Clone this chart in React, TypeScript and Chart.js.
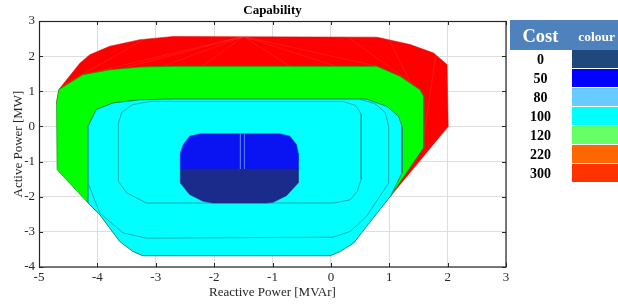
import { useEffect, useRef } from "react";
import { Chart, registerables } from "chart.js";

Chart.register(...registerables);

type P = [number, number];

const xRange: P = [-5, 3];
const yRange: P = [-4, 3];

// Cost 300 region (outer boundary, top part)
const redRegion: P[] = [
  [-4.70, 0.67], [-4.66, 1.05], [-4.30, 1.80], [-4.13, 2.04], [-3.79, 2.28],
  [-3.27, 2.47], [-2.70, 2.56], [0.79, 2.54], [1.36, 2.33], [1.76, 2.09],
  [1.99, 1.76], [2.01, 0.0], [1.02, -1.99], [0.0, -1.0], [-4.4, 0.4],
];

// Cost 120 region
const greenRegion: P[] = [
  [-4.70, 0.67], [-4.66, 1.05], [-4.25, 1.47], [-3.79, 1.61], [-3.27, 1.69],
  [-2.70, 1.71], [0.79, 1.71], [1.19, 1.42], [1.53, 1.04], [1.59, 0.85],
  [1.59, -0.60], [1.02, -1.99], [0.0, -2.0], [-4.16, -2.18], [-4.69, -1.23],
];

// Cost 100 region
const cyanRegion: P[] = [
  [-4.16, 0.0], [-4.02, 0.48], [-3.73, 0.67], [-3.27, 0.76], [-2.70, 0.78],
  [0.61, 0.78], [0.96, 0.57], [1.16, 0.29], [1.22, 0.0], [1.22, -1.32],
  [1.02, -1.99], [0.61, -2.85], [0.39, -3.32], [0.16, -3.56], [-0.01, -3.68],
  [-3.22, -3.68], [-3.39, -3.56], [-3.62, -3.27], [-3.96, -2.51], [-4.16, -2.18],
];

// Cost 50 region
const blueRegion: P[] = [
  [-2.58, -1.21], [-2.58, -0.76], [-2.53, -0.52], [-2.42, -0.28], [-2.24, -0.21],
  [-0.87, -0.21], [-0.70, -0.28], [-0.59, -0.52], [-0.56, -0.76], [-0.56, -1.21],
];

// Cost 0 region
const darkBlueRegion: P[] = [
  [-2.58, -1.21], [-0.56, -1.21], [-0.56, -1.61], [-0.76, -1.97], [-0.99, -2.16],
  [-1.10, -2.18], [-2.02, -2.18], [-2.19, -2.13], [-2.42, -1.94], [-2.58, -1.61],
];

// contour lines inside the cost 100 region
const innerContour: P[] = [
  [-3.64, -1.56], [-3.64, 0.10], [-3.58, 0.40], [-3.40, 0.62], [-3.10, 0.71],
  [0.21, 0.71], [0.42, 0.60], [0.52, 0.35], [0.52, -1.50], [0.45, -1.85],
  [0.33, -2.09], [0.04, -2.18], [-3.16, -2.18], [-3.50, -1.89], [-3.64, -1.56],
];
const outerContour: P[] = [
  [-4.16, -1.61], [-3.96, -2.46], [-3.56, -3.03], [-3.16, -3.18], [0.04, -3.15],
  [0.33, -2.99], [0.61, -2.56], [0.99, -1.61], [0.99, 0.0], [0.93, 0.40],
  [0.75, 0.65], [0.50, 0.77],
];

// faint facet lines
const redFacets: P[][] = [
  [[-1.5, 2.56], [-4.25, 1.47]],
  [[-1.5, 2.56], [-3.6, 1.64]],
  [[-1.5, 2.56], [-2.9, 1.70]],
  [[-1.5, 2.56], [-2.2, 1.71]],
  [[-1.5, 2.56], [-0.7, 1.71]],
  [[-1.5, 2.56], [0.1, 1.71]],
  [[-1.5, 2.56], [0.8, 1.71]],
  [[0.3, 2.54], [1.5, 1.08]],
  [[1.0, 2.45], [1.59, 0.5]],
  [[1.8, 2.05], [1.59, -0.3]],
  [[-3.2, 2.48], [-4.6, 1.15]],
];
const blueFacets: P[][] = [
  [[-1.55, -0.21], [-1.55, -1.21]],
  [[-1.48, -0.21], [-1.48, -1.21]],
];

const costLabels = ["0", "50", "80", "100", "120", "220", "300"];
const costColours = ["#1F497D", "#0000FF", "#66CCFF", "#00FFFF", "#66FF66", "#FF6600", "#FF3300"];

const SERIF = '"Liberation Serif", "Times New Roman", serif';

const pts = (a: P[], close = false) => {
  const d = a.map(([x, y]) => ({ x, y }));
  if (close) d.push({ x: a[0][0], y: a[0][1] });
  return d;
};

const poly = (a: P[], fillColor: string, border: string, bw: number) => ({
  data: pts(a, true),
  showLine: true,
  fill: "shape",
  backgroundColor: fillColor,
  borderColor: border,
  borderWidth: bw,
  pointRadius: 0,
  tension: 0,
});

const line = (a: P[], color: string, w: number) => ({
  data: pts(a),
  showLine: true,
  fill: false,
  borderColor: color,
  borderWidth: w,
  pointRadius: 0,
  tension: 0,
});

const framePlugin = {
  id: "frame",
  afterDatasetsDraw(chart: any) {
    const { ctx, chartArea: a, scales } = chart;
    const xs = scales.x;
    const ys = scales.y;
    ctx.save();
    ctx.strokeStyle = "#262626";
    ctx.lineWidth = 1;
    ctx.beginPath();
    xs.ticks.forEach((t: any) => {
      const px = Math.round(xs.getPixelForValue(t.value)) + 0.5;
      ctx.moveTo(px, a.bottom);
      ctx.lineTo(px, a.bottom - 4);
      ctx.moveTo(px, a.top);
      ctx.lineTo(px, a.top + 4);
    });
    ys.ticks.forEach((t: any) => {
      const py = Math.round(ys.getPixelForValue(t.value)) + 0.5;
      ctx.moveTo(a.left, py);
      ctx.lineTo(a.left + 4, py);
      ctx.moveTo(a.right, py);
      ctx.lineTo(a.right - 4, py);
    });
    ctx.stroke();
    ctx.lineWidth = 1.2;
    ctx.strokeRect(a.left + 0.5, a.top + 0.5, a.right - a.left - 0.5, a.bottom - a.top - 0.5);
    ctx.restore();
  },
};

export default function App() {
  const ref = useRef<HTMLCanvasElement | null>(null);

  useEffect(() => {
    if (!ref.current) return;
    const tickFont = { family: SERIF, size: 13 };
    const chart = new Chart(ref.current, {
      type: "scatter",
      data: {
        datasets: [
          ...blueFacets.map((f) => line(f, "rgba(80,120,255,0.8)", 1)),
          poly(darkBlueRegion, "#1A2B8C", "#1A2B8C", 0.5),
          poly(blueRegion, "#0A14F2", "#0A14F2", 0.5),
          line(innerContour, "#1E9A94", 0.8),
          line(outerContour, "#1E9A94", 0.8),
          poly(cyanRegion, "#00FFFF", "#137A5A", 0.9),
          poly(greenRegion, "#00FF00", "#129A12", 0.7),
          ...redFacets.map((f) => line(f, "rgba(255,150,150,0.28)", 0.5)),
          poly(redRegion, "#FF0000", "#E00000", 0.5),
        ] as any,
      },
      options: {
        animation: false,
        responsive: false,
        maintainAspectRatio: false,
        layout: { padding: { left: 0, right: 112, top: 0, bottom: 0 } },
        plugins: {
          legend: { display: false },
          tooltip: { enabled: false },
          title: {
            display: true,
            text: "Capability",
            fullSize: false,
            color: "#000",
            font: { family: SERIF, size: 13, weight: "bold" },
            padding: { top: 3, bottom: 2.4 },
          },
        },
        scales: {
          x: {
            type: "linear",
            min: xRange[0],
            max: xRange[1],
            ticks: { stepSize: 1, font: tickFont, color: "#262626", padding: 3 },
            grid: { color: "#DEDEDE", drawTicks: false },
            border: { display: false },
            title: {
              display: true,
              text: "Reactive Power [MVAr]",
              color: "#262626",
              font: tickFont,
              padding: { top: 0, bottom: 5 },
            },
            afterFit(s: any) {
              s.height = 38;
            },
          },
          y: {
            type: "linear",
            min: yRange[0],
            max: yRange[1],
            ticks: { stepSize: 1, font: tickFont, color: "#262626", padding: 4 },
            grid: { color: "#DEDEDE", drawTicks: false },
            border: { display: false },
            title: {
              display: true,
              text: "Active Power [MW]",
              color: "#262626",
              font: tickFont,
              padding: { top: 10.5, bottom: 0 },
            },
            afterFit(s: any) {
              s.width = 39;
            },
          },
        },
      } as any,
      plugins: [framePlugin],
    });
    return () => chart.destroy();
  }, []);

  const rowH = 19.05;

  return (
    <div
      style={{
        position: "fixed",
        left: 0,
        top: 0,
        width: 618,
        height: 305,
        overflow: "hidden",
        background: "#fff",
      }}
    >
      <canvas ref={ref} width={618} height={305} style={{ position: "absolute", left: 0, top: 0 }} />
      <div
        style={{
          position: "absolute",
          left: 510,
          top: 20,
          width: 108,
          height: 30,
          background: "#4F81BD",
        }}
      >
        <span
          style={{
            position: "absolute",
            left: 0,
            top: 1,
            width: 61,
            font: `bold 18.5px ${SERIF}`,
            lineHeight: "30px",
            textAlign: "center",
            color: "#fff",
          }}
        >
          Cost
        </span>
        <span
          style={{
            position: "absolute",
            left: 68.3,
            top: 1.5,
            font: `bold 13.5px ${SERIF}`,
            lineHeight: "30px",
            color: "#fff",
            whiteSpace: "nowrap",
          }}
        >
          colour
        </span>
      </div>
      {costLabels.map((c, i) => (
        <div key={c}>
          <div
            style={{
              position: "absolute",
              left: 510,
              width: 61,
              top: 50 + i * rowH,
              height: rowH,
              font: `bold 14px ${SERIF}`,
              lineHeight: `${rowH}px`,
              textAlign: "center",
              color: "#000",
            }}
          >
            {c}
          </div>
          <div
            style={{
              position: "absolute",
              left: 571.7,
              width: 47,
              top: 50 + i * rowH,
              height: 17.5,
              background: costColours[i],
            }}
          />
        </div>
      ))}
    </div>
  );
}
